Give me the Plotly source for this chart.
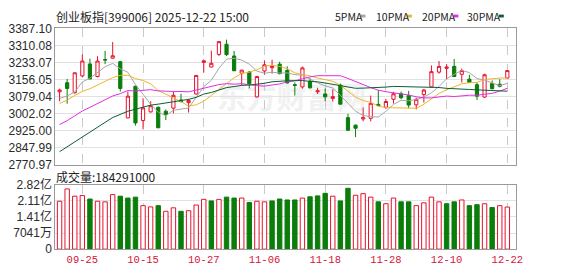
import numpy as np
import plotly.graph_objects as go

# ---------------- data ----------------
dates = ["09-22","09-23","09-24","09-25","09-26","09-29","09-30","10-09","10-10","10-13",
         "10-14","10-15","10-16","10-17","10-20","10-21","10-22","10-23","10-24","10-27",
         "10-28","10-29","10-30","10-31","11-03","11-04","11-05","11-06","11-07","11-10",
         "11-11","11-12","11-13","11-14","11-17","11-18","11-19","11-20","11-21","11-24",
         "11-25","11-26","11-27","11-28","12-01","12-02","12-03","12-04","12-05","12-08",
         "12-09","12-10","12-11","12-12","12-15","12-16","12-17","12-18","12-19","12-22"]

open_ = [3100,3141,3096,3172,3226,3169,3246,3252,3236,2982,
         3125,2970,3009,3030,3012,3026,3063,3051,3090,3233,
         3212,3269,3315,3262,3184,3189,3077,3194,3209,3225,
         3196,3132,3122,3148,3100,3090,3070,3130,2983,2949,
         2977,2980,3043,3030,3066,3091,3083,3041,3087,3122,
         3189,3206,3215,3179,3157,3132,3076,3137,3134,3162]
high_ = [3114,3158,3187,3269,3250,3261,3285,3325,3240,3101,
         3128,3071,3057,3033,3020,3101,3091,3068,3174,3246,
         3286,3330,3336,3285,3199,3194,3172,3242,3245,3236,
         3215,3142,3214,3162,3118,3115,3111,3137,3000,2952,
         3029,3083,3108,3068,3100,3101,3104,3073,3113,3219,
         3239,3225,3248,3205,3177,3142,3182,3151,3157,3198]
low_ = [3057,3046,3091,3165,3157,3165,3225,3250,3101,2980,
        2947,2930,3006,2936,2972,3002,3051,3006,3087,3187,
        3211,3262,3262,3194,3130,3115,3074,3177,3182,3179,
        3137,3083,3114,3115,3090,3058,3056,3043,2923,2895,
        2966,2966,3036,3023,3047,3066,3026,3020,3051,3120,
        3182,3157,3168,3142,3140,3063,3073,3111,3120,3161]
close_ = [3108,3115,3186,3239,3158,3239,3244,3263,3115,3080,
          2959,3027,3037,2937,2997,3084,3056,3061,3174,3240,
          3229,3327,3268,3195,3198,3137,3169,3222,3215,3182,
          3140,3129,3208,3118,3104,3077,3078,3044,2926,2935,
          2983,3048,3037,3056,3091,3073,3040,3066,3108,3191,
          3215,3212,3169,3196,3142,3080,3177,3114,3125,3196]

# closes of the 29 sessions before the visible window (needed for the moving averages)
prior_close = [2470,2500,2530,2540,2560,2600,2610,2640,2700,2686,
               2760,2750,2800,2830,2890,2950,2880,2900,2800,3004,
               2960,2980,3050,3040,3090,3060,3095,3010,3077]

volume = [209800000,263700000,231900000,234700000,219500000,209800000,207100000,238800000,231900000,223700000,
          227800000,190500000,185000000,190500000,165700000,180900000,165700000,168400000,193300000,218100000,
          211200000,218100000,227800000,223700000,223700000,204300000,209800000,207100000,211200000,219500000,
          215400000,215400000,223700000,229200000,233300000,244400000,231900000,211200000,266500000,236100000,
          243000000,227800000,207100000,198800000,223700000,207100000,207100000,190500000,202900000,227800000,
          207100000,198800000,207100000,215400000,190500000,194700000,198800000,182200000,190500000,184291000]

tick_labels = ["09-25","10-15","10-27","11-06","11-18","11-28","12-10","12-22"]
price_ticks = [2770.97,2847.99,2925.00,3002.02,3079.04,3156.05,3233.07,3310.08,3387.10]
vol_ticks = [0, 70410000, 140820000, 211230000, 281640000]
vol_tick_text = ["0","7041万","1.41亿","2.11亿","2.82亿"]
ma_periods = [5, 10, 20, 30]
ma_names = ["5PMA", "10PMA", "20PMA", "30PMA"]

# ---------------- styles ----------------
W, H = 578, 276
RED = "#e8112d"
GREEN = "#0a7d0a"
MA_COLORS = ["#a6a6a6", "#e9b62c", "#e22ee0", "#0b5e36"]
FRAME = "#9a9a9a"
GRID = "#e2e2e2"
VGRID = "#c9c9c9"

def px(xp):
    return xp / W

def py(yp):
    return 1 - yp / H

x = list(range(len(dates)))
tick_idx = [dates.index(t) for t in tick_labels]

fig = go.Figure()

# moving averages
all_close = np.array(prior_close + close_, dtype=float)
n_prior = len(prior_close)
for per, color in zip(ma_periods, MA_COLORS):
    vals = [all_close[n_prior + i - per + 1: n_prior + i + 1].mean() for i in range(len(close_))]
    fig.add_trace(go.Scatter(x=x, y=vals, mode="lines", line=dict(color=color, width=1),
                             xaxis="x", yaxis="y", hoverinfo="skip"))

fig.add_trace(go.Candlestick(
    x=x, open=open_, high=high_, low=low_, close=close_,
    increasing=dict(line=dict(color=RED, width=1), fillcolor="white"),
    decreasing=dict(line=dict(color=GREEN, width=1), fillcolor=GREEN),
    whiskerwidth=0, xaxis="x", yaxis="y", hoverinfo="skip"))

# volume colours: up vs previous close
prev = [prior_close[-1]] + close_[:-1]
up = [c >= p for c, p in zip(close_, prev)]
fig.add_trace(go.Bar(
    x=x, y=volume, width=0.58,
    marker=dict(color=["white" if u else GREEN for u in up],
                line=dict(color=[RED if u else GREEN for u in up], width=1)),
    xaxis="x2", yaxis="y2", hoverinfo="skip"))

dom_x = [px(56), px(522)]
common_x = dict(domain=dom_x, range=[-0.56, 60.1], tickmode="array", tickvals=tick_idx,
                showgrid=True, gridcolor=VGRID, griddash="dash", gridwidth=1,
                showline=True, linecolor=FRAME, linewidth=1, mirror=True,
                zeroline=False, ticks="", fixedrange=True)

fig.update_layout(
    width=W, height=H, margin=dict(l=0, r=0, t=0, b=0),
    paper_bgcolor="white", plot_bgcolor="white",
    showlegend=False, boxgap=0.4, bargap=0.4,
    xaxis=dict(**common_x, anchor="y", showticklabels=False, rangeslider=dict(visible=False)),
    yaxis=dict(domain=[py(165.5), py(21.5)], range=[price_ticks[0], price_ticks[-1]],
               tickmode="array", tickvals=price_ticks, ticktext=[f"{v:.2f}" for v in price_ticks],
               showgrid=True, gridcolor=GRID, gridwidth=1, zeroline=False,
               showline=True, linecolor=FRAME, mirror=True, ticks="",
               tickfont=dict(family="Liberation Sans", size=12, color="#2a2a2a"), anchor="x"),
    xaxis2=dict(**common_x, anchor="y2", ticktext=tick_labels,
                tickfont=dict(family="Liberation Mono", size=10.5, color="#d4143a")),
    yaxis2=dict(domain=[py(255), py(187)], range=[0, vol_ticks[-1]],
                tickmode="array", tickvals=vol_ticks, ticktext=vol_tick_text,
                showgrid=True, gridcolor=GRID, gridwidth=1, zeroline=False,
                showline=True, linecolor=FRAME, mirror=True, ticks="",
                tickfont=dict(family="Liberation Sans, Noto Sans CJK SC", size=12, color="#2a2a2a"),
                anchor="x2"),
)

# watermark (behind traces)
fig.add_shape(type="rect", xref="paper", yref="paper", x0=px(205), x1=px(385), y0=py(114), y1=py(80),
              line=dict(width=0), fillcolor="rgba(0,0,0,0)", layer="below",
              label=dict(text="东方财富网", textposition="middle center",
                         font=dict(family="Noto Sans CJK SC", size=30, color="#f1f1f1", weight="bold")))

# title
fig.add_annotation(xref="paper", yref="paper", x=px(55), y=py(8.5), xanchor="left", yanchor="middle",
                   text="创业板指[399006] 2025-12-22 15:00", showarrow=False,
                   font=dict(family="Noto Sans CJK SC", size=12, color="#222"))

# MA legend
leg_text_x = [337, 379, 425, 471]
leg_mark_x = [365, 412, 459, 505]
for name, color, tx, mx in zip(ma_names, MA_COLORS, leg_text_x, leg_mark_x):
    fig.add_annotation(xref="paper", yref="paper", x=px(tx), y=py(8.5), xanchor="left", yanchor="middle",
                       text=name, showarrow=False,
                       font=dict(family="Noto Sans CJK SC", size=10.5, color="#222"))
    fig.add_shape(type="rect", xref="paper", yref="paper", x0=px(mx), x1=px(mx + 5),
                  y0=py(10), y1=py(7), line=dict(width=0), fillcolor=color)

# volume label
fig.add_annotation(xref="paper", yref="paper", x=px(55), y=py(178), xanchor="left", yanchor="middle",
                   text="成交量:" + str(volume[-1]), showarrow=False,
                   font=dict(family="Noto Sans CJK SC", size=12, color="#222"))

fig.write_html("out.html")
